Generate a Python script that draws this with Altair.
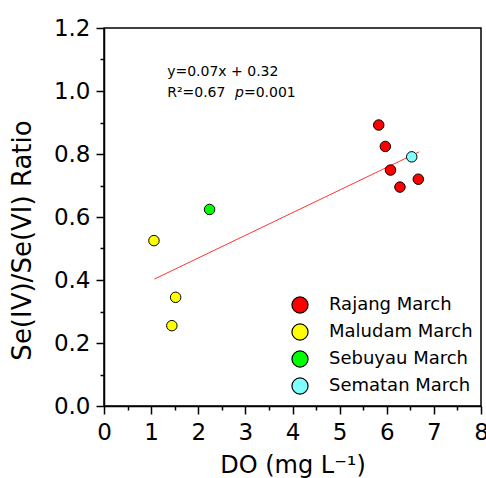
import altair as alt
import pandas as pd

# ---- data ----
sites = ["Rajang March", "Rajang March", "Rajang March", "Rajang March", "Rajang March",
         "Sematan March", "Sebuyau March",
         "Maludam March", "Maludam March", "Maludam March"]
do_vals = [5.83, 5.97, 6.08, 6.28, 6.67, 6.53, 2.24, 1.06, 1.52, 1.44]
ratio_vals = [0.892, 0.824, 0.749, 0.695, 0.720, 0.791, 0.624, 0.525, 0.345, 0.255]

legend_order = ["Rajang March", "Maludam March", "Sebuyau March", "Sematan March"]
legend_colors = ["#FF0000", "#FFFF00", "#00FF00", "#80FFFF"]

fit_x = [1.07, 6.69]
fit_y = [0.403, 0.807]

x_ticks = [0, 0.5, 1, 1.5, 2, 2.5, 3, 3.5, 4, 4.5, 5, 5.5, 6, 6.5, 7, 7.5, 8]
y_ticks = [0, 0.1, 0.2, 0.3, 0.4, 0.5, 0.6, 0.7, 0.8, 0.9, 1.0, 1.1, 1.2]

ann_text = ["y=0.07x + 0.32", "R\u00b2=0.67"]
ann_x = [1.34, 1.34]
ann_y = [1.047, 0.981]
p_text = ["p"]
p_x = [2.78]
p_y = [0.981]
pv_text = ["=0.001"]
pv_x = [2.97]
pv_y = [0.981]

FONT = "DejaVu Sans"

pts = pd.DataFrame({"site": sites, "DO": do_vals, "ratio": ratio_vals})
fit = pd.DataFrame({"DO": fit_x, "ratio": fit_y})
ann = pd.DataFrame({"DO": ann_x, "ratio": ann_y, "t": ann_text})
pann = pd.DataFrame({"DO": p_x, "ratio": p_y, "t": p_text})
pvann = pd.DataFrame({"DO": pv_x, "ratio": pv_y, "t": pv_text})

xscale = alt.Scale(domain=[0, 8], nice=False, zero=False)
yscale = alt.Scale(domain=[0, 1.2], nice=False, zero=False)

xaxis = alt.Axis(
    values=x_ticks,
    title="DO (mg L\u207b\u00b9)",
    labelExpr="datum.value % 1 == 0 ? format(datum.value, 'd') : ''",
    tickSize={"condition": {"test": "datum.value % 1 == 0", "value": 8}, "value": 4},
    labelFlush=False,
    labelOverlap=False,
    labelPadding=7,
    titleX=188.5,
    titleY=66,
    titleAlign="center",
    titleBaseline="alphabetic",
    grid=False,
)
yaxis = alt.Axis(
    values=y_ticks,
    title="Se(IV)/Se(VI) Ratio",
    labelExpr="round(datum.value*10) % 2 == 0 ? format(datum.value, '.1f') : ''",
    tickSize={"condition": {"test": "round(datum.value*10) % 2 == 0", "value": 8}, "value": 4},
    labelFlush=False,
    labelOverlap=False,
    labelPadding=6,
    titleX=-82,
    titleY=212,
    titleAngle=270,
    titleAlign="center",
    titleBaseline="middle",
    titleFontSize=26,
    grid=False,
)

x_enc = alt.X("DO:Q", scale=xscale, axis=xaxis)
y_enc = alt.Y("ratio:Q", scale=yscale, axis=yaxis)

line = alt.Chart(fit).mark_line(color="#FF3333", strokeWidth=1).encode(x=x_enc, y=y_enc)

points = alt.Chart(pts).mark_circle(size=110, stroke="black", strokeWidth=1, opacity=1).encode(
    x=x_enc,
    y=y_enc,
    fill=alt.Fill(
        "site:N",
        scale=alt.Scale(domain=legend_order, range=legend_colors),
        sort=legend_order,
        legend=alt.Legend(
            title=None,
            orient="none",
            legendX=187,
            legendY=268,
            padding=0,
            symbolType="circle",
            symbolSize=260,
            symbolStrokeColor="black",
            symbolStrokeWidth=1.2,
            symbolOpacity=1,
            labelFont=FONT,
            labelFontSize=18,
            labelColor="black",
            labelOffset=20,
            rowPadding=5,
        ),
    ),
)

txt = alt.Chart(ann).mark_text(align="left", baseline="alphabetic", font=FONT, fontSize=14, color="black").encode(
    x=x_enc, y=y_enc, text="t:N")
ptxt = alt.Chart(pann).mark_text(align="left", baseline="alphabetic", font=FONT, fontSize=14,
                                 fontStyle="italic", color="black").encode(x=x_enc, y=y_enc, text="t:N")
pvtxt = alt.Chart(pvann).mark_text(align="left", baseline="alphabetic", font=FONT, fontSize=14,
                                   color="black").encode(x=x_enc, y=y_enc, text="t:N")

chart = alt.layer(line, points, txt, ptxt, pvtxt).properties(
    width=377,
    height=378,
    autosize=alt.AutoSizeParams(type="none"),
    padding={"left": 104, "top": 28, "right": 5, "bottom": 72},
    background="white",
).configure_view(
    stroke="black", strokeWidth=1.5
).configure_axis(
    domainColor="black",
    domainWidth=1.5,
    tickColor="black",
    tickWidth=1.5,
    labelColor="black",
    labelFont=FONT,
    labelFontSize=23,
    titleColor="black",
    titleFont=FONT,
    titleFontSize=24,
    titleFontWeight="normal",
)

chart.save("out.html", embed_options={"renderer": "svg", "actions": False})
